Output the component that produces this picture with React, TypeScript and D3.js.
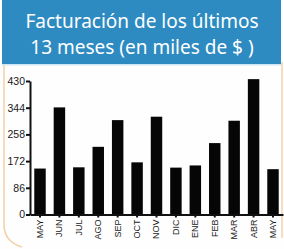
import { useEffect, useRef } from 'react';
import * as d3 from 'd3';

const months = ['MAY', 'JUN', 'JUL', 'AGO', 'SEP', 'OCT', 'NOV', 'DIC', 'ENE', 'FEB', 'MAR', 'ABR', 'MAY'];
const sales = [148, 345, 152, 218, 304, 168, 315, 151, 158, 230, 302, 436, 146];
const yTicks = [0, 86, 172, 258, 344, 430];
const titleLines = ['Facturación de los últimos', '13 meses (en miles de $ )'];

export default function App() {
  const ref = useRef<SVGSVGElement>(null);

  useEffect(() => {
    const svg = d3.select(ref.current);
    svg.selectAll('*').remove();

    const W = 284;
    const H = 249;

    // panel background with faint orange edge
    svg.append('rect').attr('width', W).attr('height', H).attr('fill', '#fefefe');
    svg.append('path')
      .attr('d', 'M4,64 V226 Q5,242 22,247')
      .attr('fill', 'none')
      .attr('stroke', '#f3cfa6')
      .attr('stroke-width', 1.5);
    svg.append('path')
      .attr('d', 'M282,62 V238')
      .attr('fill', 'none')
      .attr('stroke', '#f5d3ad')
      .attr('stroke-width', 1.5);

    // title box
    svg.append('rect')
      .attr('x', 2).attr('y', 0)
      .attr('width', 279).attr('height', 64)
      .attr('fill', '#2d8bc2');
    svg.append('rect')
      .attr('x', 2).attr('y', 64)
      .attr('width', 279).attr('height', 1.5)
      .attr('fill', '#cfe6f3');

    svg.append('g')
      .attr('font-family', '"Noto Sans", sans-serif')
      .attr('font-size', 19)
      .attr('fill', '#ffffff')
      .attr('text-anchor', 'middle')
      .selectAll('text')
      .data(titleLines)
      .enter().append('text')
      .attr('x', 142)
      .attr('y', (d, i) => 28 + i * 26)
      .text(d => d);

    const x = d3.scaleBand()
      .domain(months.map((m, i) => i + ''))
      .range([30, 283])
      .paddingInner(0.41)
      .paddingOuter(0.22);

    const y = d3.scaleLinear()
      .domain([0, 430])
      .range([214.5, 81]);

    // bars
    svg.append('g')
      .selectAll('rect')
      .data(sales)
      .enter().append('rect')
      .attr('x', (d, i) => x(i + '')!)
      .attr('y', d => y(d))
      .attr('width', x.bandwidth())
      .attr('height', d => y(0) - y(d))
      .attr('fill', '#060606');

    // y axis
    const yAxis = svg.append('g')
      .attr('transform', 'translate(30,0)')
      .call(d3.axisLeft(y).tickValues(yTicks).tickSize(4).tickPadding(1).tickSizeOuter(0));
    yAxis.select('.domain').attr('stroke', '#111').attr('stroke-width', 2);
    yAxis.selectAll('.tick line').attr('stroke', '#111').attr('stroke-width', 2);
    yAxis.selectAll('.tick text')
      .attr('font-family', '"Liberation Sans", Arial, sans-serif')
      .attr('font-size', 10.5)
      .attr('fill', '#1a1a1a');

    // x axis
    const xAxis = svg.append('g')
      .attr('transform', `translate(0,${y(0)})`)
      .call(d3.axisBottom(x).tickSize(3).tickSizeOuter(0).tickFormat(d => months[+d]));
    xAxis.select('.domain').attr('stroke', '#111').attr('stroke-width', 2);
    xAxis.selectAll('.tick line').attr('stroke', '#111').attr('stroke-width', 2);
    xAxis.selectAll('.tick text')
      .attr('font-family', '"Liberation Sans", Arial, sans-serif')
      .attr('font-size', 9)
      .attr('fill', '#1a1a1a')
      .attr('transform', 'rotate(-90)')
      .attr('text-anchor', 'end')
      .attr('x', -5)
      .attr('y', 0)
      .attr('dy', '0.33em');
  }, []);

  return (
    <svg
      ref={ref}
      width={284}
      height={249}
      style={{ position: 'absolute', left: 0, top: 0 }}
    />
  );
}
